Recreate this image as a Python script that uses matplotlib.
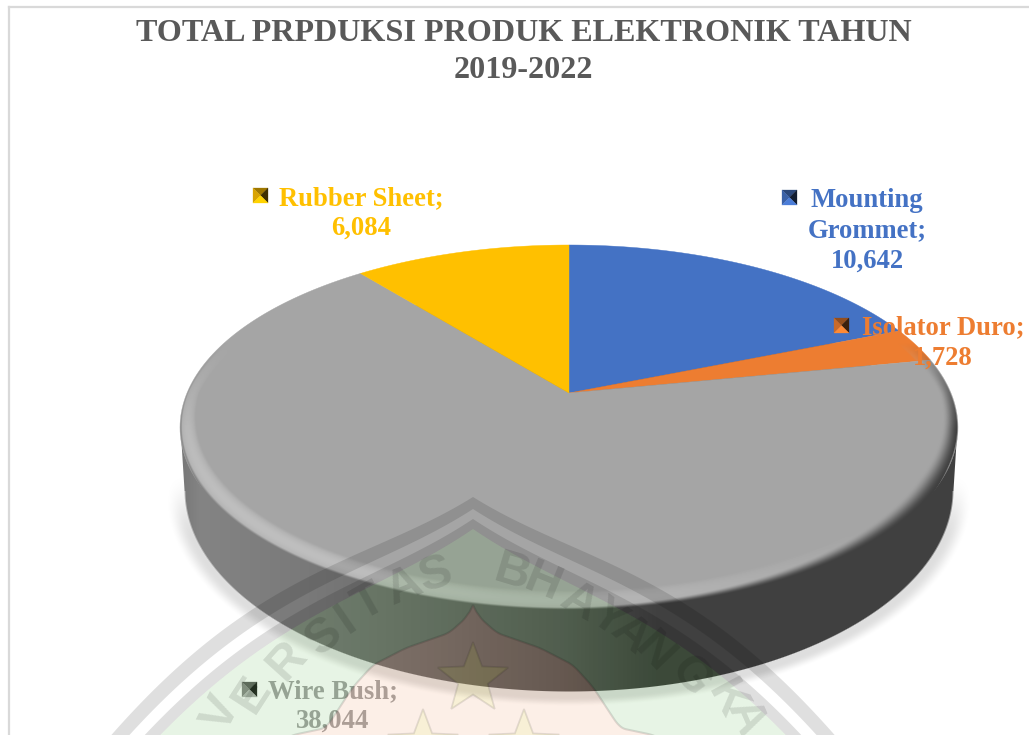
import numpy as np
import matplotlib
matplotlib.use('Agg')
import matplotlib.pyplot as plt
from matplotlib.patches import Polygon

# data
categories = ['Mounting Grommet', 'Isolator Duro', 'Wire Bush', 'Rubber Sheet']
values = [10642, 1728, 38044, 6084]
colors = ['#4472c4', '#ed7d31', '#a5a5a5', '#ffc000']
title_lines = ['TOTAL PRPDUKSI PRODUK ELEKTRONIK TAHUN', '2019-2022']

plt.rcParams['font.family'] = ['Liberation Serif']

fig = plt.figure(figsize=(10.29, 7.35), dpi=100)
ax = fig.add_axes([0, 0, 1, 1])
W, H = 1029, 735

# tilted disc: circle -> screen, with a bit of perspective
CX, R = 569.0, 382.0
PA, PB, PC = -101.7, 393.0, 0.189


def disc(u, v):
    w = PC * v + 1
    return CX + R * u / w, (PA * v + PB) / w


def smooth(x):
    x = np.clip(x, 0, 1)
    return x * x * (3 - 2 * x)


xx, yy = np.meshgrid(np.arange(W) + 0.5, np.arange(H) + 0.5)


def rgba(gray, alpha):
    out = np.zeros((H, W, 4))
    out[..., 0] = out[..., 1] = out[..., 2] = gray / 255.0
    out[..., 3] = np.clip(alpha, 0, 1)
    return out


def put(img, z):
    ax.imshow(img, extent=(0, W, H, 0), interpolation='nearest', aspect='auto', zorder=z)


# lower edge of the disc side, plus the soft shadow around it
rho = np.sqrt(((xx - CX) / 385.0) ** 2 + ((yy - 490.0) / 202.0) ** 2)
rho2 = np.sqrt(((xx - CX) / 385.0) ** 2 + ((yy - 495.0) / 202.0) ** 2)
shadow = 0.13 * smooth(1 - (rho2 - 1) / 0.05) * smooth((yy - 470) / 70.0)
put(rgba(np.zeros_like(xx), shadow), 1)

half = np.interp(yy, [427, 490], [389, 385])
side_mask = np.maximum(np.clip((1 - rho) * 200, 0, 1),
                       ((yy > 427) & (yy < 491)) * np.clip(half - np.abs(xx - CX), 0, 1))
side_gray = np.interp(xx, [180, 200, 300, 420, 560, 660, 960],
                      [118, 132, 122, 108, 88, 64, 64])
put(rgba(side_gray, side_mask), 2)

# pie top, clockwise from 12 o'clock
edges = np.cumsum([0] + values) / sum(values) * 2 * np.pi
for i, name in enumerate(categories):
    t = np.linspace(edges[i], edges[i + 1], 200)
    px, py = disc(np.sin(t), np.cos(t))
    ax_pts = np.column_stack([np.r_[CX, px], np.r_[PB, py]])
    ax.add_patch(Polygon(ax_pts, closed=True, facecolor=colors[i], edgecolor=colors[i],
                         linewidth=0.3, zorder=3))

# bevel on the front rim
dv = (yy - PB) / (PA - PC * yy)
du = (xx - CX) * (PC * dv + 1) / R
rr = np.sqrt(du ** 2 + dv ** 2)
theta = np.arctan2(du, dv)
r0 = 1 - (0.035 + 0.045 * np.abs(np.cos(theta)))
tb = np.clip((rr - r0) / (1 - r0), 0, 1)
light = np.cos(theta - np.radians(225))
front = np.clip((0.3 - dv) / 0.5, 0, 1)
bevel = 165 + 26 * np.clip(light, 0, 1) * np.sin(np.pi * tb * 0.9)
start = 0.1 + 0.75 * np.clip(light + 0.3, 0, 1)
mix = smooth((tb - start) / (1 - start))
bevel = bevel * (1 - mix) + side_gray * mix
# a small overlap at the front only, so no light seam shows against the side
rim = 1.0 + 0.012 * smooth((-dv - 0.35) / 0.4)
put(rgba(bevel, front * smooth(tb / 0.2) * np.clip((rim - rr) * 300, 0, 1)), 4)

# border
ax.plot([9, 9], [H, 7], color='#d9d9d9', lw=1.6, zorder=1)
ax.plot([9, W], [7, 7], color='#d9d9d9', lw=1.6, zorder=1)

# title
ax.text(523.5, 33, title_lines[0], ha='center', va='center', fontsize=23.1,
        fontweight='bold', color='#595959', zorder=6)
ax.text(523.5, 70, title_lines[1], ha='center', va='center', fontsize=23.1,
        fontweight='bold', color='#595959', zorder=6)

# data labels
label_lines = [['Mounting', 'Grommet;', f'{values[0]:,}'],
               ['Isolator Duro;', f'{values[1]:,}'],
               ['Wire Bush;', f'{values[2]:,}'],
               ['Rubber Sheet;', f'{values[3]:,}']]
label_pos = [(867, [200.5, 231, 261.5]), (943, [328, 358.5]), (333, [691.5, 721.5]),
             (361, [198.5, 228.5])]
key_pos = [(782, 190), (834, 318), (242, 682), (253, 188)]
for i in range(4):
    cx, ys = label_pos[i]
    for s, y in zip(label_lines[i], ys):
        ax.text(cx, y, s, ha='center', va='center', fontsize=19.2, fontweight='bold',
                color=colors[i], zorder=6)
    # bevelled legend key
    kx, ky = key_pos[i]
    s = 15
    c = np.array(matplotlib.colors.to_rgb(colors[i]))
    mid = (kx + s / 2, ky + s / 2)
    tris = [([(kx, ky), (kx + s, ky), mid], c * 0.62),
            ([(kx, ky), (kx, ky + s), mid], c * 0.85),
            ([(kx + s, ky), (kx + s, ky + s), mid], c * 0.25),
            ([(kx, ky + s), (kx + s, ky + s), mid], np.minimum(c * 1.1, 1))]
    for pts, col in tris:
        ax.add_patch(Polygon(pts, closed=True, facecolor=col, edgecolor=col, lw=0.2, zorder=6))

# university watermark on top of everything
WX = 473.0
arch_dx = [0, 60, 130, 220, 307, 360, 420]
arch_y = [497, 525, 563, 607, 675, 735, 805]
arch_fit = np.polyfit(arch_dx, arch_y, 4)
band_gray = (0, 0, 0, 0.125)
green = (25 / 255, 155 / 255, 0, 0.10)
peach = (235 / 255, 105 / 255, 25 / 255, 0.10)
straw = (200 / 255, 1.0, 0, 0.07)


def arch(off):
    d = np.linspace(0, 420, 120)
    y = np.polyval(arch_fit, d) - np.polyval(arch_fit, 0) + 497 + off * (1 + d / 360 * 0.7)
    return np.r_[WX - d[::-1], WX + d[1:]], np.r_[y[::-1], y[1:]]


def band(o1, o2):
    x1, y1 = arch(o1)
    x2, y2 = arch(o2)
    pts = np.column_stack([np.r_[x1, x2[::-1]], np.r_[y1, y2[::-1]]])
    ax.add_patch(Polygon(pts, closed=True, facecolor=band_gray, edgecolor='none', zorder=8))


band(0, 12)
band(22, 32)

# dome outline, densified and smoothed a little so the ogee has no corners
dome_dx = [0, 6, 24, 67, 100, 120, 137, 147, 180, 200]
dome_y = [605, 617, 633, 648, 665, 687, 713, 728, 735, 745]
d_fine = np.linspace(0, 200, 120)
y_fine = np.interp(d_fine, dome_dx, dome_y)
kernel = np.ones(7) / 7
y_fine[3:-3] = np.convolve(y_fine, kernel, mode='valid')
y_fine[0] = 605
gx, gy = arch(32)
dome_l = np.column_stack([WX - d_fine, y_fine])
dome_r = np.column_stack([WX + d_fine, y_fine])
green_pts = np.vstack([np.column_stack([gx, gy]), dome_r[::-1], dome_l[1:]])
ax.add_patch(Polygon(green_pts, closed=True, facecolor=green, edgecolor='none', zorder=8))
dome_pts = np.vstack([dome_l[::-1], dome_r[1:]])
ax.add_patch(Polygon(dome_pts, closed=True, facecolor=peach, edgecolor=(0, 0, 0, 0.12),
                     lw=1.5, zorder=8))


def star(x0, y0, r):
    a = np.arange(10) * np.pi / 5
    rad = np.where(np.arange(10) % 2 == 0, r, r * 0.42)
    return np.column_stack([x0 + rad * np.sin(a), y0 - rad * np.cos(a)])


for x0, y0, r in [(473, 679, 37), (423, 746, 37), (524, 746, 37)]:
    ax.add_patch(Polygon(star(x0, y0, r), closed=True, facecolor=straw,
                         edgecolor=(0, 0, 0, 0.10), lw=1.3, zorder=9))

letters = ['V', 'E', 'R', 'S', 'I', 'T', 'A', 'S', 'B', 'H', 'A', 'Y', 'A', 'N', 'G', 'K', 'A']
letter_x = [222, 252, 287, 324, 346, 369, 404, 436, 512, 543, 579, 608, 630, 654, 690, 726, 745]
letter_y = [714, 695, 661, 637, 620, 603, 587, 575, 573, 583, 603, 618, 635, 653, 677, 700, 718]
for ch, lx, ly in zip(letters, letter_x, letter_y):
    rot = np.degrees(np.arctan2(WX - lx, 900 - ly)) + 10 * np.sign(WX - lx)
    ax.text(lx, ly, ch, ha='center', va='center', rotation=rot, rotation_mode='anchor',
            fontsize=35, family='Liberation Sans', fontweight='bold', color=(0, 0, 0, 0.11),
            zorder=9)

ax.set_xlim(0, W)
ax.set_ylim(H, 0)
ax.axis('off')
fig.savefig('out.png', dpi=100)
